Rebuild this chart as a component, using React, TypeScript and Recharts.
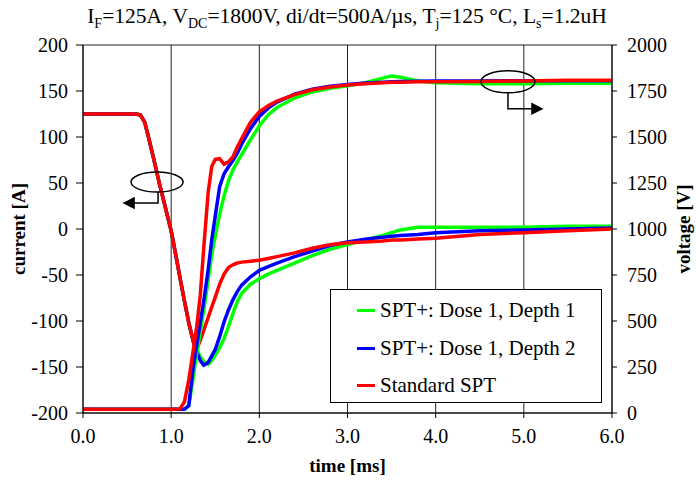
import {
  LineChart,
  Line,
  XAxis,
  YAxis,
  CartesianGrid,
  Legend,
  ReferenceDot
} from "recharts";

const FONT = "'Liberation Serif', 'Times New Roman', serif";

// time [ms]
const time = [
  0, 0.3, 0.6, 0.65, 0.7, 0.75, 0.8, 0.87, 0.93, 1.0, 1.05, 1.1, 1.15, 1.2, 1.25,
  1.29, 1.33, 1.37, 1.42, 1.46, 1.5, 1.55, 1.6, 1.65, 1.7, 1.75, 1.8, 1.9, 2.0, 2.1,
  2.2, 2.4, 2.6, 2.8, 3.0, 3.2, 3.4, 3.5, 3.6, 3.8, 4.0, 4.5, 5.0, 5.5, 6.0
];

// current [A]
const greenCurrent = [
  125, 125, 125, 124, 116, 97, 77, 48, 25, -2, -27, -53, -78, -102, -122,
  -131, -139, -144, -147, -143, -137, -129, -119, -106, -92, -79, -70, -60, -54, -49,
  -45, -37, -29, -22, -17, -12, -7, -4, -1, 2, 2, 2, 2, 3, 3
];
const blueCurrent = [
  125, 125, 125, 124, 116, 97, 77, 48, 25, -2, -27, -53, -78, -102, -122,
  -134, -143, -148, -145, -138, -131, -117, -101, -88, -77, -68, -61, -52, -45, -41,
  -37, -30, -24, -18, -14, -11, -9, -8, -7, -6, -4, -2, -1, 0, 1
];
const redCurrent = [
  125, 125, 125, 124, 116, 97, 77, 48, 25, -2, -27, -53, -78, -102, -122,
  -131, -121, -110, -96, -85, -74, -60, -49, -42, -39, -37, -36, -35, -34, -32,
  -30, -26, -21, -17, -15, -14, -13, -12, -12, -11, -10, -6, -4, -2, 0
];

// voltage [V]
const greenVoltage = [
  20, 20, 20, 20, 20, 20, 20, 20, 20, 20, 20, 20, 20, 40, 190,
  326, 440, 560, 723, 860, 960, 1080, 1180, 1262, 1320, 1365, 1405, 1485, 1560, 1620,
  1660, 1712, 1745, 1765, 1778, 1795, 1820, 1832, 1825, 1805, 1795, 1790, 1790, 1792, 1792
];
const blueVoltage = [
  20, 20, 20, 20, 20, 20, 20, 20, 20, 20, 20, 20, 20, 40, 250,
  370, 490, 610, 780, 940, 1070, 1230, 1300, 1338, 1372, 1412, 1462, 1545, 1612, 1657,
  1690, 1733, 1760, 1776, 1786, 1793, 1798, 1800, 1801, 1803, 1805, 1805, 1806, 1806, 1806
];
const redVoltage = [
  20, 20, 20, 20, 20, 20, 20, 20, 20, 20, 20, 22, 60, 180, 340,
  470, 640, 900, 1200, 1340, 1378, 1382, 1352, 1365, 1392, 1445, 1492, 1580, 1637, 1670,
  1695, 1730, 1757, 1772, 1783, 1790, 1795, 1797, 1798, 1800, 1800, 1802, 1805, 1808, 1808
];

const timeTicks = [0, 1, 2, 3, 4, 5, 6];
const currentTicks = [-200, -150, -100, -50, 0, 50, 100, 150, 200];
const voltageTicks = [0, 250, 500, 750, 1000, 1250, 1500, 1750, 2000];

// callout anchors: [time, value]
const currentCallout = [0.84, 51];
const voltageCallout = [4.82, 1800];

const data = time.map((t, i) => ({
  t,
  iGreen: greenCurrent[i],
  iBlue: blueCurrent[i],
  iRed: redCurrent[i],
  vGreen: greenVoltage[i],
  vBlue: blueVoltage[i],
  vRed: redVoltage[i]
}));

const tickStyle = { fontFamily: FONT, fontSize: 20, fill: "#000" };

function LeftCallout({ cx, cy }: any) {
  return (
    <g stroke="#000" strokeWidth={1.5} fill="none">
      <ellipse cx={cx} cy={cy} rx={26} ry={10} />
      <polyline points={`${cx + 1},${cy + 10} ${cx + 1},${cy + 21} ${cx - 24},${cy + 21}`} />
      <polygon points={`${cx - 33},${cy + 21} ${cx - 23},${cy + 16} ${cx - 23},${cy + 26}`} fill="#000" />
    </g>
  );
}

function RightCallout({ cx, cy }: any) {
  return (
    <g stroke="#000" strokeWidth={1.5} fill="none">
      <ellipse cx={cx} cy={cy} rx={27} ry={11} />
      <polyline points={`${cx},${cy + 11} ${cx},${cy + 27} ${cx + 25},${cy + 27}`} />
      <polygon points={`${cx + 34},${cy + 27} ${cx + 24},${cy + 22} ${cx + 24},${cy + 32}`} fill="#000" />
    </g>
  );
}

function LegendBox({ payload }: any) {
  const items = (payload || []).filter((p: any) => p.type !== "none");
  return (
    <div
      style={{
        boxSizing: "border-box",
        width: 272,
        height: 114,
        border: "1px solid #000",
        background: "#fff",
        paddingTop: 2,
        fontFamily: FONT,
        fontSize: 21
      }}
    >
      {items.map((p: any) => (
        <div key={p.value} style={{ display: "flex", alignItems: "center", height: 37.5 }}>
          <span style={{ display: "inline-block", width: 18, height: 3, background: p.color, marginLeft: 26, marginRight: 5 }} />
          <span>{p.value}</span>
        </div>
      ))}
    </div>
  );
}

export default function App() {
  return (
    <div style={{ position: "absolute", left: 0, top: 0, width: 696, height: 480, fontFamily: FONT }}>
      <div
        style={{
          position: "absolute",
          left: 0,
          top: 4,
          width: 694,
          textAlign: "center",
          fontSize: 21.5,
          color: "#000",
          zIndex: 2
        }}
      >
        I<sub style={{ fontSize: 14 }}>F</sub>=125A, V<sub style={{ fontSize: 14 }}>DC</sub>=1800V,
        di/dt=500A/µs, T<sub style={{ fontSize: 14 }}>j</sub>=125 °C, L<sub style={{ fontSize: 14 }}>s</sub>=1.2uH
      </div>
      <LineChart
        width={696}
        height={480}
        data={data}
        margin={{ top: 45, right: 0, bottom: 0, left: 0 }}
      >
        <CartesianGrid stroke="#222" strokeWidth={1} />
        <XAxis
          dataKey="t"
          type="number"
          domain={[0, 6]}
          ticks={timeTicks}
          tickFormatter={(v: number) => v.toFixed(1)}
          height={67}
          tickSize={5}
          tickMargin={11}
          stroke="#000"
          tick={tickStyle}
          label={(props: any) => {
            const vb = props.viewBox;
            return (
              <text x={vb.x + vb.width / 2} y={vb.y + 59} textAnchor="middle" fontFamily={FONT} fontSize={19} fontWeight="bold" fill="#000">
                time [ms]
              </text>
            );
          }}
        />
        <YAxis
          yAxisId="current"
          orientation="left"
          domain={[-200, 200]}
          ticks={currentTicks}
          width={83}
          tickSize={7}
          tickMargin={8}
          stroke="#000"
          tick={tickStyle}
          label={(props: any) => {
            const vb = props.viewBox;
            const x = vb.x + 25;
            const y = vb.y + vb.height / 2;
            return (
              <text x={x} y={y} transform={`rotate(-90 ${x} ${y})`} textAnchor="middle" fontFamily={FONT} fontSize={19} fontWeight="bold" fill="#000">
                current [A]
              </text>
            );
          }}
        />
        <YAxis
          yAxisId="voltage"
          orientation="right"
          domain={[0, 2000]}
          ticks={voltageTicks}
          width={84}
          tickSize={5}
          tickMargin={10}
          stroke="#000"
          tick={tickStyle}
          label={(props: any) => {
            const vb = props.viewBox;
            const x = vb.x + 78;
            const y = vb.y + vb.height / 2;
            return (
              <text x={x} y={y} transform={`rotate(-90 ${x} ${y})`} textAnchor="middle" fontFamily={FONT} fontSize={19} fontWeight="bold" fill="#000">
                voltage [V]
              </text>
            );
          }}
        />
        <Legend
          layout="horizontal"
          verticalAlign="middle"
          align="center"
          wrapperStyle={{ left: 330, top: 289, width: 272, height: 114 }}
          content={LegendBox}
        />
        <Line yAxisId="current" dataKey="iGreen" name="SPT+: Dose 1, Depth 1" stroke="#00ff00" strokeWidth={3.5} dot={false} type="linear" isAnimationActive={false} />
        <Line yAxisId="current" dataKey="iBlue" name="SPT+: Dose 1, Depth 2" stroke="#0000ff" strokeWidth={3.5} dot={false} type="linear" isAnimationActive={false} />
        <Line yAxisId="current" dataKey="iRed" name="Standard SPT" stroke="#ff0000" strokeWidth={3.5} dot={false} type="linear" isAnimationActive={false} />
        <Line yAxisId="voltage" dataKey="vGreen" name="vGreen" legendType="none" stroke="#00ff00" strokeWidth={3.5} dot={false} type="linear" isAnimationActive={false} />
        <Line yAxisId="voltage" dataKey="vBlue" name="vBlue" legendType="none" stroke="#0000ff" strokeWidth={3.5} dot={false} type="linear" isAnimationActive={false} />
        <Line yAxisId="voltage" dataKey="vRed" name="vRed" legendType="none" stroke="#ff0000" strokeWidth={3.5} dot={false} type="linear" isAnimationActive={false} />
        <ReferenceDot yAxisId="current" x={currentCallout[0]} y={currentCallout[1]} r={0} shape={LeftCallout} />
        <ReferenceDot yAxisId="voltage" x={voltageCallout[0]} y={voltageCallout[1]} r={0} shape={RightCallout} />
      </LineChart>
    </div>
  );
}
